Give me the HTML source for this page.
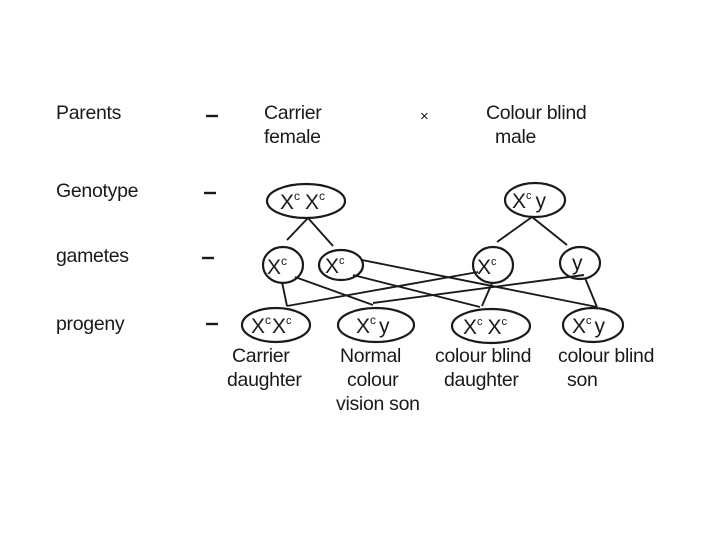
<!DOCTYPE html>
<html><head><style>
body{margin:0;background:#fff}
svg{display:block}
text{font-family:"Liberation Sans",sans-serif;fill:#1a1a1a}
</style></head><body>
<svg width="720" height="540" viewBox="0 0 720 540">
<g font-size="19.5" letter-spacing="-0.3">
<text x="56" y="119">Parents</text>
<text x="264" y="119">Carrier</text>
<text x="264" y="143">female</text>
<text x="486" y="119">Colour blind</text>
<text x="495" y="143">male</text>
<text x="420" y="121" font-size="15">×</text>
<text x="56" y="197">Genotype</text>
<text x="56" y="262">gametes</text>
<text x="56" y="330">progeny</text>
<text x="232" y="362">Carrier</text>
<text x="227" y="386">daughter</text>
<text x="340" y="362">Normal</text>
<text x="347" y="386">colour</text>
<text x="336" y="410">vision son</text>
<text x="435" y="362">colour blind</text>
<text x="444" y="386">daughter</text>
<text x="558" y="362">colour blind</text>
<text x="567" y="386">son</text>
</g>
<g stroke="#1a1a1a" stroke-width="2.4">
<line x1="206" y1="116" x2="218" y2="116"/>
<line x1="204" y1="193" x2="216" y2="193"/>
<line x1="202" y1="258" x2="214" y2="258"/>
<line x1="206" y1="324" x2="218" y2="324"/>
</g>
<g fill="none" stroke="#1a1a1a" stroke-width="2.2">
<ellipse cx="306" cy="201" rx="39" ry="17"/>
<ellipse cx="535" cy="200" rx="30" ry="17"/>
<ellipse cx="283" cy="265" rx="20" ry="18"/>
<ellipse cx="341" cy="265" rx="22" ry="15"/>
<ellipse cx="493" cy="265" rx="20" ry="18"/>
<ellipse cx="580" cy="263" rx="20" ry="16"/>
<ellipse cx="276" cy="325" rx="34" ry="17"/>
<ellipse cx="376" cy="325" rx="38" ry="17"/>
<ellipse cx="491" cy="326" rx="39" ry="17"/>
<ellipse cx="593" cy="325" rx="30" ry="17"/>
</g>
<g stroke="#1a1a1a" stroke-width="1.9">
<line x1="308" y1="218" x2="287" y2="240"/>
<line x1="308" y1="218" x2="333" y2="246"/>
<line x1="532" y1="217" x2="497" y2="242"/>
<line x1="532" y1="217" x2="567" y2="245"/>
<line x1="282" y1="282" x2="287" y2="306"/>
<line x1="287" y1="306" x2="478" y2="272"/>
<line x1="295" y1="277" x2="373" y2="305"/>
<line x1="373" y1="303" x2="584" y2="275"/>
<line x1="353" y1="275" x2="480" y2="307"/>
<line x1="492" y1="283" x2="482" y2="306"/>
<line x1="362" y1="260" x2="597" y2="307"/>
<line x1="585" y1="278" x2="597" y2="307"/>
</g>
<g font-size="21">
<text x="280" y="209">X<tspan font-size="12" dy="-9">c</tspan><tspan dy="9" dx="5">X</tspan><tspan font-size="12" dy="-9">c</tspan></text>
<text x="512" y="208">X<tspan font-size="11" dy="-9">c</tspan><tspan dy="9" dx="4">y</tspan></text>
<text x="267" y="274">X<tspan font-size="12" dy="-9">c</tspan></text>
<text x="325" y="273">X<tspan font-size="11" dy="-9">c</tspan></text>
<text x="477" y="274">X<tspan font-size="11" dy="-9">c</tspan></text>
<text x="572" y="270">y</text>
<text x="251" y="333">X<tspan font-size="12" dy="-9">c</tspan><tspan dy="9" dx="1">X</tspan><tspan font-size="11" dy="-9">c</tspan></text>
<text x="356" y="333">X<tspan font-size="12" dy="-9">c</tspan><tspan dy="9" dx="3">y</tspan></text>
<text x="463" y="334">X<tspan font-size="11" dy="-9">c</tspan><tspan dy="9" dx="5">X</tspan><tspan font-size="11" dy="-9">c</tspan></text>
<text x="572" y="333">X<tspan font-size="11" dy="-9">c</tspan><tspan dy="9" dx="3">y</tspan></text>
</g>
</svg>
</body></html>
